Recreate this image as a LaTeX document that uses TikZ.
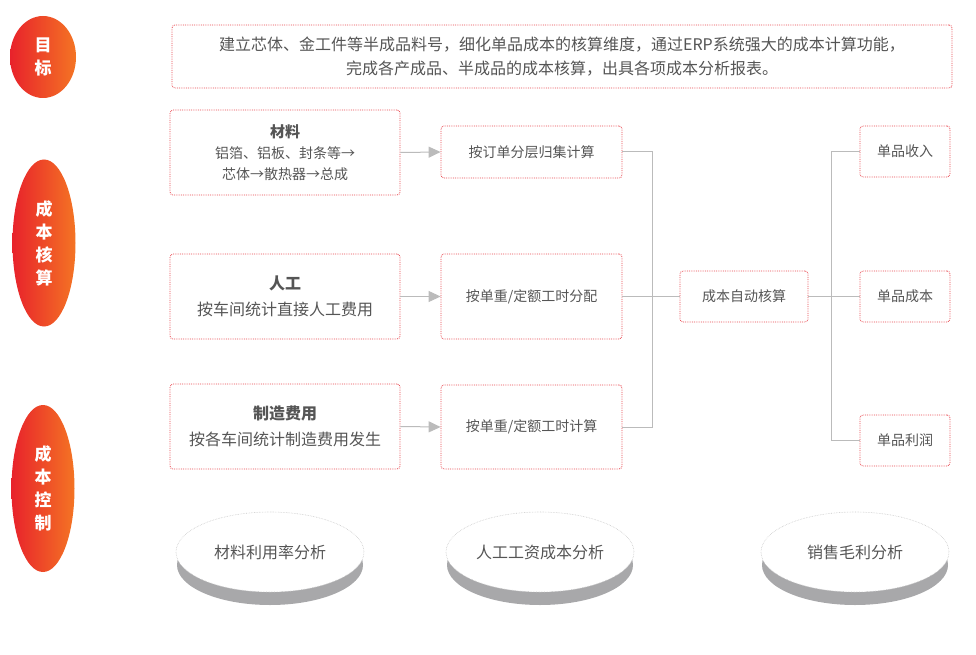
\documentclass[tikz,border=0pt]{standalone}
\usepackage{fontspec}
\setmainfont{Noto Sans CJK SC}
\usetikzlibrary{shapes.geometric,arrows.meta}

\definecolor{hdred}{HTML}{E8222B}
\definecolor{hdorange}{HTML}{F47424}
\definecolor{txtgray}{HTML}{555555}
\definecolor{dotred}{HTML}{E8464E}
\definecolor{lngray}{HTML}{BBBBBB}
\definecolor{discgray}{HTML}{A8A8AA}
\definecolor{discline}{HTML}{C8C8C8}

\newcommand{\fsz}[1]{\fontsize{#1}{#1}\selectfont}

\tikzset{
    tag/.style={ellipse, inner sep=0pt, left color=hdred, right color=hdorange,
        text=white, align=center, font=\bfseries\fontsize{17}{23}\selectfont},
    box/.style={draw=dotred, densely dotted, line width=0.8pt, rounded corners=3pt,
        fill=white, text=txtgray, align=center, inner sep=0pt},
    link/.style={draw=lngray, line width=1pt},
    feed/.style={link, -{Triangle[length=12pt,width=11pt]}},
}

\begin{document}
\begin{tikzpicture}[x=1pt, y=-1pt]
    \useasboundingbox (0,0) rectangle (976,655);
    %
    % left tags
    \node[tag, minimum width=66, minimum height=82]  (tGoal) at (43,57)    {目\\标};
    \node[tag, minimum width=63, minimum height=167] (tCost) at (44,243)   {成\\本\\核\\算};
    \node[tag, minimum width=63, minimum height=167] (tCtrl) at (43,488.5) {成\\本\\控\\制};
    %
    % goal
    \node[box, minimum width=780, minimum height=63, font=\fsz{16}] (goal) at (562,56.5)
        {建立芯体、金工件等半成品料号，细化单品成本的核算维度，通过ERP系统强大的成本计算功能，\\[8pt]
         完成各产成品、半成品的成本核算，出具各项成本分析报表。};
    %
    % cost sources
    \node[box, minimum width=230, minimum height=85, font=\fsz{14}] (mat) at (285,152.5)
        {{\bfseries\fsz{15}材料}\\[7pt] 铝箔、铝板、封条等→\\[7pt] 芯体→散热器→总成};
    \node[box, minimum width=230, minimum height=85, font=\fsz{16}] (lab) at (285,296.5)
        {{\bfseries 人工}\\[10pt] 按车间统计直接人工费用};
    \node[box, minimum width=230, minimum height=85, font=\fsz{16}] (ovh) at (285,426.5)
        {{\bfseries 制造费用}\\[10pt] 按各车间统计制造费用发生};
    %
    % allocation
    \node[box, minimum width=181, minimum height=52, font=\fsz{14}] (alMat) at (531.5,152)   {按订单分层归集计算};
    \node[box, minimum width=181, minimum height=85, font=\fsz{14}] (alLab) at (531.5,296.5) {按单重/定额工时分配};
    \node[box, minimum width=181, minimum height=84, font=\fsz{14}] (alOvh) at (531.5,427)   {按单重/定额工时计算};
    %
    \node[box, minimum width=128, minimum height=51, font=\fsz{14}] (auto) at (744,296.5) {成本自动核算};
    %
    % results
    \node[box, minimum width=90, minimum height=51, font=\fsz{14}] (rev)  at (905,151.5) {单品收入};
    \node[box, minimum width=90, minimum height=51, font=\fsz{14}] (cst)  at (905,296.5) {单品成本};
    \node[box, minimum width=90, minimum height=51, font=\fsz{14}] (prof) at (905,440.5) {单品利润};
    %
    \coordinate (busL) at (652,296.5);
    \coordinate (busR) at (831,296.5);
    %
    \draw[feed] (mat.east) -- (alMat.west);
    \draw[feed] (lab.east) -- (alLab.west);
    \draw[feed] (ovh.east) -- (alOvh.west);
    \draw[link] (alMat.east) -| (busL);
    \draw[link] (alOvh.east) -| (busL);
    \draw[link] (alLab.east) -- (auto.west);
    \draw[link] (auto.east) -- (cst.west);
    \draw[link] (busR) |- (rev.west);
    \draw[link] (busR) |- (prof.west);
    %
    % analysis discs
    \foreach \cx/\name/\txt in {270/dMat/材料利用率分析, 540/dLab/人工工资成本分析, 855/dSal/销售毛利分析}{
        \fill[discgray] (\cx,565) ellipse [x radius=93, y radius=40];
        \node[ellipse, draw=discline, densely dotted, line width=0.6pt, fill=white,
              minimum width=188, minimum height=80, inner sep=0pt,
              text=txtgray, font=\fsz{16}] (\name) at (\cx,552) {\txt};
    }
\end{tikzpicture}
\end{document}
